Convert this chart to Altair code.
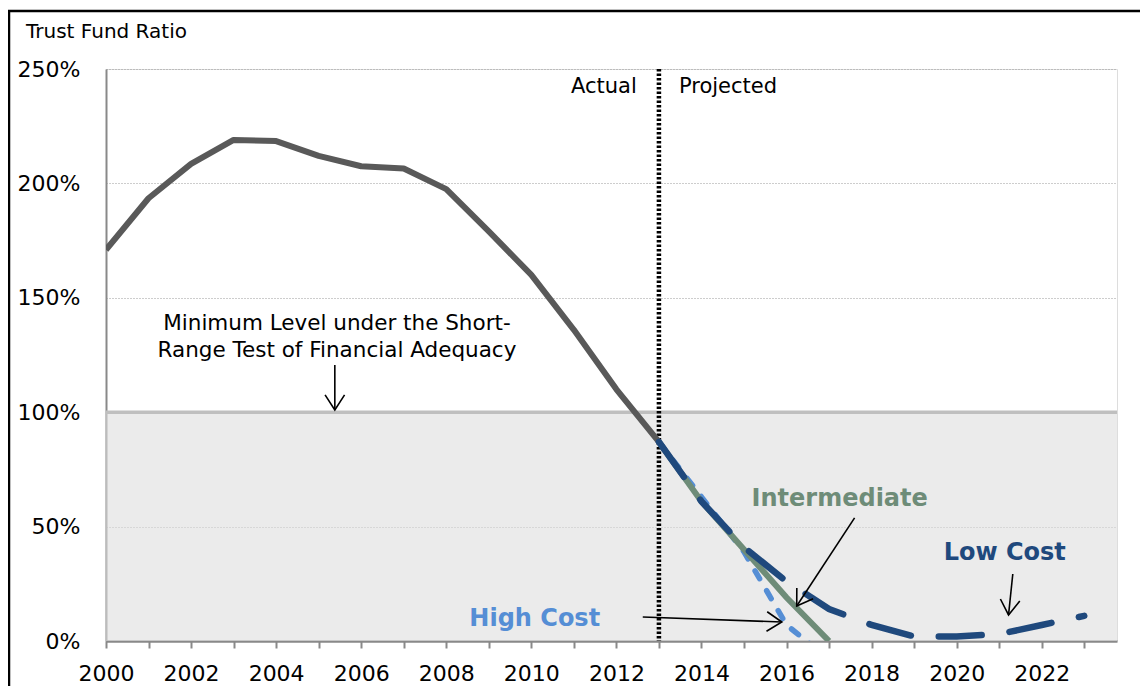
import math
import altair as alt
import pandas as pd

# ---------------- data ----------------
actual_years = list(range(2000, 2014))
actual_ratio = [171, 193.5, 208.5, 219, 218.5, 212, 207.5, 206.5, 197.5, 179, 160, 136, 110, 87]

inter_years = [2013, 2014, 2015, 2016, 2017]
inter_ratio = [87, 61, 40, 19, 0]

high_years = [2013, 2014, 2015, 2016, 2017]
high_ratio = [87, 63, 39, 7, -8]

low_years = list(range(2013, 2024))
low_ratio = [87, 61, 41, 26, 14, 7, 2, 2, 3, 7, 11]

y_ticks = [0, 50, 100, 150, 200, 250]
x_ticks = list(range(2000, 2024))

divider_year = 2013
min_level = 100

# annotations (text, x, y, colour, weight, align)
ann_text = ["Actual", "Projected", "Minimum Level under the Short-\nRange Test of Financial Adequacy",
            "Intermediate", "Low Cost", "High Cost"]
ann_x = [2012.48, 2013.47, 2005.43, 2017.25, 2021.13, 2010.08]
ann_y = [242, 242, 138.5, 62, 38.5, 9.6]
ann_size = [21, 21, 21.5, 24, 24, 24]
ann_color = ["black", "black", "black", "#6e8c78", "#1f497d", "#558ed5"]
ann_weight = ["normal", "normal", "normal", "bold", "bold", "bold"]
ann_align = ["right", "left", "center", "center", "center", "center"]

# arrows: start (x, y) -> end (x2, y2)
arr_x = [2005.38, 2017.60, 2021.32, 2012.62]
arr_y = [120.6, 53.8, 29.3, 10.5]
arr_x2 = [2005.38, 2016.24, 2021.22, 2015.89]
arr_y2 = [101.0, 15.3, 11.4, 8.3]

# ---------------- layout ----------------
W, H = 1011, 572
X_MIN, X_MAX = 2000, 2023.77
Y_MIN, Y_MAX = 0, 250
px_per_x = W / (X_MAX - X_MIN)
px_per_y = H / (Y_MAX - Y_MIN)

FONT = "DejaVu Sans"

xs = alt.Scale(domain=[X_MIN, X_MAX], nice=False, zero=False)
ys = alt.Scale(domain=[Y_MIN, Y_MAX], nice=False)

x_axis = alt.Axis(values=x_ticks, labelExpr="datum.value % 2 == 0 ? datum.value : ''",
                  grid=False, tickColor="#898989", tickSize=7, tickWidth=2,
                  domainColor="#898989", domainWidth=2.5, labelFontSize=22, labelFont=FONT,
                  labelColor="black", labelPadding=15, title=None, labelFlush=False,
                  labelOverlap=False)
y_axis = alt.Axis(values=y_ticks, labelExpr="datum.value + '%'", grid=True,
                  gridColor="#9a9a9a", gridDash=[1, 2], gridWidth=1, ticks=False,
                  domainColor="#898989", domainWidth=2, labelFontSize=22, labelFont=FONT,
                  labelColor="black", labelPadding=26, title=None)

one = pd.DataFrame({"a": [0]})

# shaded zone below the minimum level
shade = alt.Chart(one).mark_rect(color="#dedede", opacity=0.6).encode(
    x=alt.X("xs:Q", scale=xs, axis=x_axis), x2=alt.datum(X_MAX),
    y=alt.Y("ys:Q", scale=ys, axis=y_axis), y2=alt.datum(min_level),
).transform_calculate(xs=str(X_MIN), ys="0")

min_rule = alt.Chart(one).mark_rule(color="#bfbfbf", strokeWidth=3.5).encode(
    y=alt.datum(min_level))

divider = alt.Chart(one).mark_rule(color="black", strokeWidth=4.5, strokeDash=[2.5, 2]).encode(
    x=alt.datum(divider_year))

actual_df = pd.DataFrame({"year": actual_years, "ratio": actual_ratio})
inter_df = pd.DataFrame({"year": inter_years, "ratio": inter_ratio})
high_df = pd.DataFrame({"year": high_years, "ratio": high_ratio})
low_df = pd.DataFrame({"year": low_years, "ratio": low_ratio})


def line(df, **kw):
    return alt.Chart(df).mark_line(clip=True, **kw).encode(
        x=alt.X("year:Q", scale=xs), y=alt.Y("ratio:Q", scale=ys))


actual_line = line(actual_df, color="#595959", strokeWidth=6, strokeJoin="round")
high_line = line(high_df, color="#558ed5", strokeWidth=5.5, strokeDash=[9, 14], strokeCap="round")
inter_line = line(inter_df, color="#6e8c78", strokeWidth=6)
low_line = line(low_df, color="#1f497d", strokeWidth=6.5, strokeDash=[43, 28], strokeCap="round")

ann_df = pd.DataFrame({"text": ann_text, "x": ann_x, "y": ann_y})


def ann(i):
    d = ann_df.iloc[[i]]
    return alt.Chart(d).mark_text(font=FONT, fontSize=ann_size[i],
                                  fontWeight=ann_weight[i], align=ann_align[i],
                                  baseline="middle", color=ann_color[i],
                                  lineBreak="\n", lineHeight=27).encode(
        x=alt.X("x:Q", scale=xs), y=alt.Y("y:Q", scale=ys), text="text:N")


texts = [ann(i) for i in range(len(ann_text))]

angles = []
for x1, y1, x2, y2 in zip(arr_x, arr_y, arr_x2, arr_y2):
    dx = (x2 - x1) * px_per_x
    dy = -(y2 - y1) * px_per_y
    a = math.degrees(math.atan2(-dx, dy)) % 360
    angles.append(a)

arr_df = pd.DataFrame({"x": arr_x, "y": arr_y, "x2": arr_x2, "y2": arr_y2, "ang": angles})

shafts = alt.Chart(arr_df).mark_rule(color="black", strokeWidth=1.6).encode(
    x=alt.X("x:Q", scale=xs), y=alt.Y("y:Q", scale=ys), x2="x2:Q", y2="y2:Q")
heads = alt.Chart(arr_df).mark_point(shape="M-0.65,-1L0,0L0.65,-1", filled=False,
                                     color="black", strokeWidth=1.6, size=900, opacity=1).encode(
    x=alt.X("x2:Q", scale=xs), y=alt.Y("y2:Q", scale=ys),
    angle=alt.Angle("ang:Q", scale=None))

title_txt = alt.Chart(one).mark_text(text="Trust Fund Ratio", font=FONT, fontSize=20,
                                     align="left", baseline="middle", color="black").encode(
    x=alt.value(-80), y=alt.value(-37))

frame = alt.Chart(one).mark_rect(fill=None, stroke="black", strokeWidth=2.5, clip=False).encode(
    x=alt.value(-97), y=alt.value(-58), x2=alt.value(1100), y2=alt.value(700))

chart = alt.layer(shade, min_rule, divider, actual_line, high_line, inter_line, low_line,
                  shafts, heads, *texts, title_txt, frame).properties(
    width=W, height=H,
    autosize=alt.AutoSizeParams(type="none"),
    padding={"left": 98, "top": 61, "right": 23, "bottom": 45},
).configure_view(stroke=None).configure(background="white")

chart.save("out.html", embed_options={"renderer": "svg", "actions": False})
